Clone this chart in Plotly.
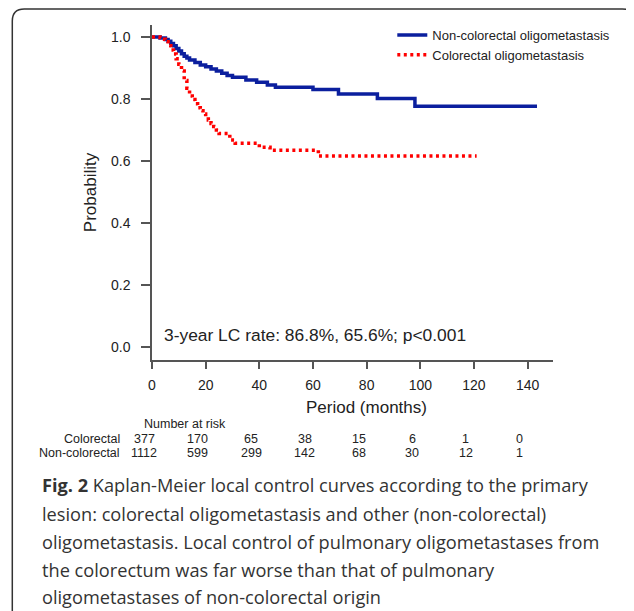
import plotly.graph_objects as go

# ---------------- data ----------------
noncol_months = [0, 3, 5, 6, 7, 8, 9, 10, 11, 12, 13, 14, 16, 18, 20, 22, 24, 26, 28, 30, 35, 39, 43, 46, 60, 69.5, 84, 98, 143.5]
noncol_surv = [1.0, 0.997, 0.992, 0.986, 0.979, 0.972, 0.963, 0.955, 0.946, 0.938, 0.932, 0.926, 0.918, 0.910, 0.904,
               0.897, 0.890, 0.883, 0.876, 0.870, 0.861, 0.854, 0.845, 0.838, 0.831, 0.816, 0.802, 0.777, 0.777]

col_months = [0, 3, 4, 5, 6, 7, 8, 9, 10, 11, 12, 13, 14, 15, 16, 17, 18, 19, 20, 21, 22, 23, 24, 25, 29, 31, 40, 44, 62, 121]
col_surv = [1.0, 0.998, 0.993, 0.985, 0.972, 0.958, 0.945, 0.930, 0.912, 0.890, 0.860, 0.835, 0.810, 0.798, 0.785,
            0.772, 0.762, 0.752, 0.742, 0.732, 0.721, 0.711, 0.700, 0.689, 0.668, 0.657, 0.644, 0.635, 0.616, 0.616]

risk_months = [0, 20, 40, 60, 80, 100, 120, 140]
risk_colorectal = [377, 170, 65, 38, 15, 6, 1, 0]
risk_noncolorectal = [1112, 599, 299, 142, 68, 30, 12, 1]

x_ticks = [0, 20, 40, 60, 80, 100, 120, 140]
y_ticks = [0.0, 0.2, 0.4, 0.6, 0.8, 1.0]
y_tick_labels = ["0.0", "0.2", "0.4", "0.6", "0.8", "1.0"]

caption_lines = [
    "<b>Fig. 2</b> Kaplan-Meier local control curves according to the primary",
    "lesion: colorectal oligometastasis and other (non-colorectal)",
    "oligometastasis. Local control of pulmonary oligometastases from",
    "the colorectum was far worse than that of pulmonary",
    "oligometastases of non-colorectal origin",
]

# ---------------- layout geometry (screen pixels; page body has an 8px margin) ----------------
OFF = 8
W_PX, H_PX = 634 - OFF, 611 - OFF
L, R, T, B = 151.7, 552.7, 25.0, 360.0          # plot area in screen pixels
PW, PH = R - L, B - T


def px(xs):
    return (xs - L) / PW


def py(ys):
    return (B - ys) / PH


TXT = "#222222"
AX = "#555555"
FONT = "Liberation Sans, Arial, sans-serif"

fig = go.Figure()
fig.add_trace(go.Scatter(
    x=noncol_months, y=noncol_surv, mode="lines", line_shape="hv",
    line=dict(color="#0B1F9E", width=3.5), name="Non-colorectal oligometastasis"))
fig.add_trace(go.Scatter(
    x=col_months, y=col_surv, mode="lines", line_shape="hv",
    line=dict(color="#FF0000", width=3.5, dash="3px,3.5px"), name="Colorectal oligometastasis"))

annotations = []
annotations.append(dict(text="3-year LC rate: 86.8%, 65.6%; p<0.001", x=px(161.7), y=py(335),
                        xref="paper", yref="paper", xanchor="left", yanchor="middle", showarrow=False,
                        font=dict(family=FONT, size=17.4, color=TXT)))
annotations.append(dict(text="Period (months)", x=px(366), y=py(407), xref="paper", yref="paper",
                        xanchor="center", yanchor="middle", showarrow=False,
                        font=dict(family=FONT, size=17, color=TXT)))
annotations.append(dict(text="Number at risk", x=px(142), y=py(424), xref="paper", yref="paper",
                        xanchor="left", yanchor="middle", showarrow=False,
                        font=dict(family=FONT, size=12.5, color=TXT)))
annotations.append(dict(text="Colorectal", x=px(122), y=py(439), xref="paper", yref="paper",
                        xanchor="right", yanchor="middle", showarrow=False,
                        font=dict(family=FONT, size=12.5, color=TXT)))
annotations.append(dict(text="Non-colorectal", x=px(122), y=py(453), xref="paper", yref="paper",
                        xanchor="right", yanchor="middle", showarrow=False,
                        font=dict(family=FONT, size=12.5, color=TXT)))
for m, a, b in zip(risk_months, risk_colorectal, risk_noncolorectal):
    annotations.append(dict(text=str(a), x=m, y=py(439), xref="x", yref="paper", xshift=-8,
                            xanchor="center", yanchor="middle", showarrow=False,
                            font=dict(family=FONT, size=12.5, color=TXT)))
    annotations.append(dict(text=str(b), x=m, y=py(453), xref="x", yref="paper", xshift=-8,
                            xanchor="center", yanchor="middle", showarrow=False,
                            font=dict(family=FONT, size=12.5, color=TXT)))

cap_y = [485, 514, 542, 570, 597]
for line, yy in zip(caption_lines, cap_y):
    annotations.append(dict(text=line, x=px(40), y=py(yy), xref="paper", yref="paper",
                            xanchor="left", yanchor="middle", showarrow=False,
                            font=dict(family="Open Sans, Noto Sans, sans-serif", size=18.2, color="#333333")))

# rounded frame around figure
frame = (f"M {px(12)},{py(640)} L {px(12)},{py(21)} Q {px(12)},{py(9)} {px(24)},{py(9)} "
         f"L {px(622)},{py(9)} Q {px(634)},{py(9)} {px(634)},{py(21)} L {px(634)},{py(640)}")

fig.update_layout(
    width=W_PX, height=H_PX,
    margin=dict(l=L - OFF, r=W_PX - (R - OFF), t=T - OFF, b=H_PX - (B - OFF), pad=0, autoexpand=False),
    paper_bgcolor="white", plot_bgcolor="white",
    showlegend=True,
    legend=dict(x=px(392), y=py(20), xanchor="left", yanchor="top",
                bgcolor="rgba(0,0,0,0)", borderwidth=0,
                font=dict(family=FONT, size=13, color=TXT), tracegroupgap=0),
    annotations=annotations,
    shapes=[dict(type="path", path=frame, xref="paper", yref="paper",
                 line=dict(color="#333333", width=1.5))],
    hovermode=False,
    xaxis=dict(range=[0, PW / 2.683], tickvals=x_ticks, ticktext=[str(v) for v in x_ticks],
               showgrid=False, zeroline=False, showline=True, linecolor=AX, linewidth=1.5,
               ticks="outside", ticklen=7, tickwidth=1.5, tickcolor=AX,
               tickfont=dict(family=FONT, size=14, color=TXT), ticklabelstandoff=4),
    yaxis=dict(range=[-13 / 310, 322 / 310], tickvals=y_ticks, ticktext=y_tick_labels,
               showgrid=False, zeroline=False, showline=True, linecolor=AX, linewidth=1.5,
               ticks="outside", ticklen=9, tickwidth=1.5, tickcolor=AX,
               tickfont=dict(family=FONT, size=14, color=TXT), ticklabelstandoff=8,
               title=dict(text="Probability", font=dict(family=FONT, size=17, color=TXT), standoff=10)),
)

fig.write_html("out.html")
